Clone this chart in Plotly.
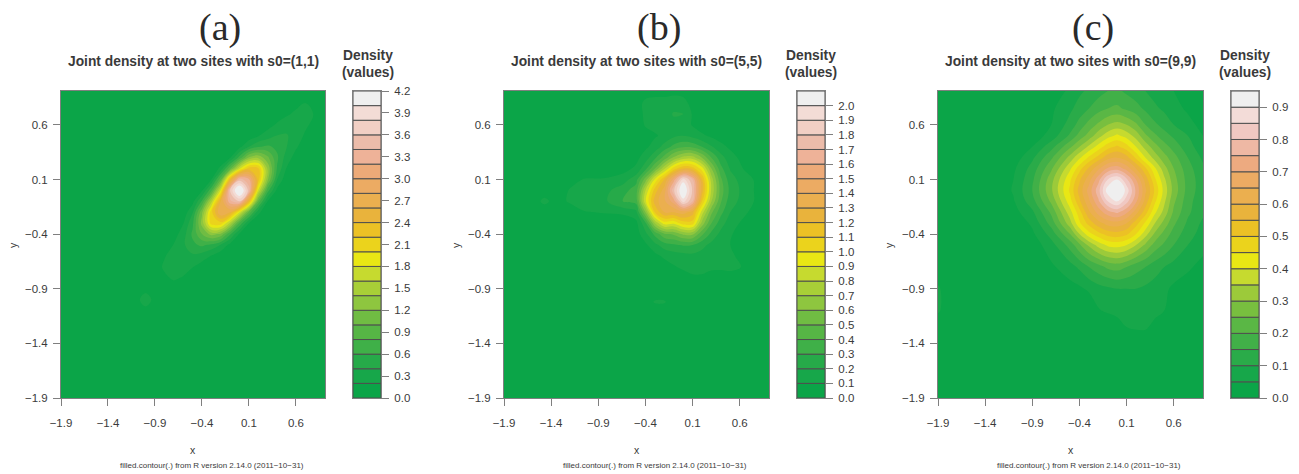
import plotly.graph_objects as go

W, H = 1299, 474

# Colour bands, low to high (21 for panels a and b, 19 for c)
colors_21 = ["#0ba548", "#17a74a", "#26aa49", "#3fb048", "#56b545", "#70bc43", "#8ec63f",
             "#a8cf37", "#c6da2f", "#e9e714", "#ebd31c", "#ecc125", "#e9b33c", "#ebaf4f",
             "#ecab63", "#edaa78", "#eeb298", "#ecbcaa", "#f1cfc4", "#f3dcd6", "#efefef"]
colors_19 = ["#0ba548", "#17a74a", "#2aab49", "#41b048", "#5ab745", "#78bf3f", "#9cca3a",
             "#c6da2f", "#e9e714", "#ebd31c", "#ecc125", "#e9b33c", "#ebaf4f", "#ecab63",
             "#edaa80", "#eeb8a4", "#f0c8c2", "#f3dcd8", "#efefef"]

axis_ticks = [-1.9, -1.4, -0.9, -0.4, 0.1, 0.6]
axis_labels = ["\u22121.9", "\u22121.4", "\u22120.9", "\u22120.4", "0.1", "0.6"]

# Panel (a) density
x_a = [-1.9, -1.3, -1.1, -1.0, -0.9, -0.8, -0.7, -0.6, -0.5, -0.4, -0.3, -0.2, -0.1, 0.0,
       0.1, 0.2, 0.3, 0.4, 0.5, 0.6, 0.7, 0.8, 0.91]
y_a = list(x_a)
z_a = [
    [0]*23,
    [0]*23,
    [0, 0, 0, .10, 0, 0, 0, 0, 0, 0, 0, 0, 0, 0, 0, 0, 0, 0, 0, 0, 0, 0, 0],
    [0, 0, .10, .36, .10, 0, 0, 0, 0, 0, 0, 0, 0, 0, 0, 0, 0, 0, 0, 0, 0, 0, 0],
    [0, 0, 0, .10, .08, .09, .07, .03, 0, 0, 0, 0, 0, 0, 0, 0, 0, 0, 0, 0, 0, 0, 0],
    [0, 0, 0, .05, .09, .15, .24, .18, .09, .02, 0, 0, 0, 0, 0, 0, 0, 0, 0, 0, 0, 0, 0],
    [0, 0, .01, .03, .08, .24, .32, .31, .21, .11, .03, 0, 0, 0, 0, 0, 0, 0, 0, 0, 0, 0, 0],
    [0, 0, 0, .01, .07, .18, .31, .38, .36, .30, .19, .06, 0, 0, 0, 0, 0, 0, 0, 0, 0, 0, 0],
    [0, 0, 0, 0, .02, .09, .21, .36, .55, .64, .55, .38, .13, 0, 0, 0, 0, 0, 0, 0, 0, 0, 0],
    [0, 0, 0, 0, 0, .02, .11, .30, .64, 1.0, 1.28, 1.16, .63, .17, 0, 0, 0, 0, 0, 0, 0, 0, 0],
    [0, 0, 0, 0, 0, 0, .03, .19, .55, 1.28, 2.1, 2.13, 1.54, .75, .20, 0, 0, 0, 0, 0, 0, 0, 0],
    [0, 0, 0, 0, 0, 0, 0, .06, .38, 1.16, 2.13, 2.8, 2.6, 1.82, .93, .26, 0, 0, 0, 0, 0, 0, 0],
    [0, 0, 0, 0, 0, 0, 0, 0, .13, .63, 1.54, 2.6, 3.35, 3.6, 2.4, .93, .19, 0, 0, 0, 0, 0, 0],
    [0, 0, 0, 0, 0, 0, 0, 0, 0, .17, .75, 1.82, 3.6, 4.4, 3.5, 1.76, .68, .14, 0, 0, 0, 0, 0],
    [0, 0, 0, 0, 0, 0, 0, 0, 0, 0, .20, .93, 2.4, 3.5, 3.25, 2.30, 1.24, .40, .06, 0, 0, 0, 0],
    [0, 0, 0, 0, 0, 0, 0, 0, 0, 0, 0, .26, .93, 1.76, 2.30, 2.25, 1.36, .58, .19, .03, 0, 0, 0],
    [0, 0, 0, 0, 0, 0, 0, 0, 0, 0, 0, 0, .19, .68, 1.24, 1.36, 1.05, .64, .30, .12, .03, 0, 0],
    [0, 0, 0, 0, 0, 0, 0, 0, 0, 0, 0, 0, 0, .14, .40, .58, .64, .55, .41, .23, .09, .02, 0],
    [0, 0, 0, 0, 0, 0, 0, 0, 0, 0, 0, 0, 0, 0, .06, .19, .30, .41, .42, .31, .17, .07, .01],
    [0, 0, 0, 0, 0, 0, 0, 0, 0, 0, 0, 0, 0, 0, 0, .03, .12, .23, .31, .30, .24, .14, .03],
    [0, 0, 0, 0, 0, 0, 0, 0, 0, 0, 0, 0, 0, 0, 0, 0, .03, .09, .17, .24, .26, .19, .06],
    [0, 0, 0, 0, 0, 0, 0, 0, 0, 0, 0, 0, 0, 0, 0, 0, 0, .02, .07, .14, .20, .17, .05],
    [0]*23,
]

# Panel (b)
x_b = [-1.9, -1.6, -1.47, -1.35, -1.2, -1.04, -0.85, -0.64, -0.5, -0.4, -0.3, -0.2, -0.1, 0.0,
       0.1, 0.2, 0.3, 0.4, 0.5, 0.65, 0.8, 0.91]
y_b = [-1.9, -1.1, -1.02, -0.94, -0.8, -0.7, -0.6, -0.5, -0.4, -0.3, -0.2, -0.1, 0.0, 0.1,
       0.2, 0.3, 0.4, 0.5, 0.6, 0.7, 0.8, 0.91]
z_b = [
    [0]*22,
    [0]*22,
    [0, 0, 0, 0, 0, 0, 0, 0, 0, 0, .12, .12, 0, 0, 0, 0, 0, 0, 0, 0, 0, 0],
    [0]*22,
    [0, 0, 0, 0, 0, 0, 0, 0, 0, 0, 0, 0, .02, .05, .08, .08, .06, .05, .05, .02, 0, 0],
    [0, 0, 0, 0, 0, 0, 0, 0, 0, 0, 0, .05, .09, .12, .14, .14, .12, .12, .13, .09, 0, 0],
    [0, 0, 0, 0, 0, 0, 0, 0, 0, 0, .07, .12, .15, .16, .17, .16, .13, .11, .11, .08, 0, 0],
    [0, 0, 0, 0, 0, 0, 0, 0, 0, .08, .17, .25, .28, .31, .30, .23, .17, .12, .10, .05, 0, 0],
    [0, 0, 0, 0, 0, 0, 0, 0, .05, .17, .33, .48, .52, .62, .62, .42, .27, .17, .11, .05, 0, 0],
    [0, 0, 0, 0, 0, 0, 0, 0, .07, .28, .70, .95, .92, 1.05, 1.05, .66, .40, .24, .15, .07, 0, 0],
    [0, 0, 0, 0, .02, .09, .11, .13, .17, .60, 1.10, 1.30, 1.30, 1.35, 1.25, .85, .52, .33, .20, .12, .04, 0],
    [0, .02, .14, .04, .12, .20, .17, .30, .34, .88, 1.25, 1.38, 1.55, 1.95, 1.70, 1.10, .70, .41, .24, .16, .07, 0],
    [0, 0, .02, .03, .11, .16, .16, .26, .35, .80, 1.15, 1.35, 1.78, 2.15, 1.78, 1.25, .78, .45, .27, .16, .07, 0],
    [0, 0, 0, 0, .06, .11, .11, .15, .26, .55, .92, 1.20, 1.55, 1.95, 1.70, 1.20, .75, .42, .24, .15, .07, 0],
    [0, 0, 0, 0, 0, 0, .03, .06, .12, .27, .50, .78, 1.05, 1.20, 1.15, .95, .60, .33, .19, .09, .02, 0],
    [0, 0, 0, 0, 0, 0, 0, .02, .07, .15, .28, .44, .62, .74, .75, .60, .40, .24, .14, .06, 0, 0],
    [0, 0, 0, 0, 0, 0, 0, 0, .03, .08, .14, .24, .33, .38, .37, .30, .21, .13, .08, .03, 0, 0],
    [0, 0, 0, 0, 0, 0, 0, 0, 0, .06, .09, .12, .18, .20, .17, .12, .08, .05, 0, 0, 0, 0],
    [0, 0, 0, 0, 0, 0, 0, 0, .04, .11, .13, .14, .17, .16, .09, .04, 0, 0, 0, 0, 0, 0],
    [0, 0, 0, 0, 0, 0, 0, 0, .05, .12, .14, .15, .21, .20, .09, .03, 0, 0, 0, 0, 0, 0],
    [0, 0, 0, 0, 0, 0, 0, 0, .06, .12, .13, .13, .15, .14, .06, 0, 0, 0, 0, 0, 0, 0],
    [0, 0, 0, 0, 0, 0, 0, 0, 0, .06, .07, .07, .07, .06, 0, 0, 0, 0, 0, 0, 0, 0],
]

# Panel (c)
x_c = [-1.9, -1.8, -1.3, -1.1, -0.9, -0.7, -0.5, -0.4, -0.3, -0.2, -0.1, 0.0, 0.1, 0.2, 0.3,
       0.4, 0.5, 0.6, 0.75, 0.91]
y_c = [-1.9, -1.4, -1.25, -1.1, -0.9, -0.7, -0.5, -0.4, -0.3, -0.2, -0.1, 0.0, 0.1, 0.2, 0.3,
       0.4, 0.5, 0.6, 0.75, 0.91]
z_c = [
    [0]*20,
    [0]*20,
    [0, 0, 0, 0, 0, 0, 0, 0, 0, 0, 0, .02, .05, .06, .06, .03, 0, 0, 0, 0],
    [.06, .02, 0, 0, 0, 0, 0, 0, 0, .045, .06, .07, .08, .08, .08, .07, .05, .02, 0, 0],
    [.06, .02, 0, 0, 0, 0, .03, .04, .06, .08, .09, .10, .10, .10, .09, .08, .06, .04, .02, .01],
    [0, 0, 0, 0, 0, .04, .08, .11, .15, .18, .21, .22, .20, .17, .15, .12, .10, .08, .06, .03],
    [0, 0, 0, 0, .02, .08, .17, .24, .31, .37, .41, .42, .40, .35, .29, .23, .19, .15, .10, .07],
    [0, 0, 0, 0, .04, .12, .25, .35, .43, .48, .52, .53, .51, .45, .37, .29, .23, .18, .12, .08],
    [0, 0, 0, .01, .06, .17, .33, .44, .52, .58, .62, .63, .60, .52, .44, .35, .28, .21, .14, .09],
    [0, 0, 0, .03, .09, .21, .38, .48, .59, .67, .73, .76, .71, .62, .52, .41, .33, .24, .16, .11],
    [0, 0, .01, .045, .13, .26, .43, .54, .64, .74, .85, .90, .82, .71, .58, .46, .36, .26, .17, .11],
    [0, 0, .01, .055, .15, .29, .46, .57, .67, .78, .93, .99, .88, .74, .61, .49, .38, .28, .18, .12],
    [0, 0, .01, .05, .14, .28, .44, .54, .63, .73, .85, .90, .81, .70, .58, .46, .36, .27, .18, .12],
    [0, 0, 0, .04, .12, .24, .39, .48, .56, .64, .71, .73, .68, .60, .51, .41, .32, .25, .17, .11],
    [0, 0, 0, .02, .09, .19, .32, .39, .46, .52, .58, .60, .57, .49, .40, .33, .27, .22, .15, .09],
    [0, 0, 0, .01, .05, .13, .24, .30, .36, .42, .48, .51, .47, .40, .33, .27, .22, .18, .12, .07],
    [0, 0, 0, 0, .02, .07, .16, .22, .27, .33, .38, .41, .38, .33, .26, .21, .17, .14, .10, .05],
    [0, 0, 0, 0, .01, .05, .12, .17, .22, .26, .30, .32, .30, .26, .20, .16, .13, .10, .07, .03],
    [0, 0, 0, 0, 0, .04, .09, .12, .15, .18, .20, .21, .19, .17, .14, .11, .09, .07, .04, .01],
    [0, 0, 0, 0, 0, .02, .06, .09, .11, .13, .15, .16, .14, .12, .10, .08, .06, .05, .02, 0],
]

panel_names = ["(a)", "(b)", "(c)"]
titles = ["Joint density at two sites with s0=(1,1)",
          "Joint density at two sites with s0=(5,5)",
          "Joint density at two sites with s0=(9,9)"]
footer = "filled.contour(.) from R version 2.14.0 (2011\u221210\u221231)"

edges_a = [round(0.2 * i, 2) for i in range(22)]
edges_b = [round(0.1 * i, 2) for i in range(22)]
edges_c = [round(0.05 * i, 2) for i in range(20)]
bar_ticks_a = [0.0, 0.3, 0.6, 0.9, 1.2, 1.5, 1.8, 2.1, 2.4, 2.7, 3.0, 3.3, 3.6, 3.9, 4.2]
bar_ticks_b = [0.0, 0.1, 0.2, 0.3, 0.4, 0.5, 0.6, 0.7, 0.8, 0.9, 1.0, 1.1, 1.2, 1.3, 1.4,
               1.5, 1.6, 1.7, 1.8, 1.9, 2.0]
bar_ticks_c = [0.0, 0.1, 0.2, 0.3, 0.4, 0.5, 0.6, 0.7, 0.8, 0.9]

panels = [
    dict(x=x_a, y=y_a, z=z_a, colors=colors_21, edges=edges_a, bticks=bar_ticks_a,
         px=(61, 325), bar=(353, 381), label_x=220, lab_x=13, foot_x=212, dens_x=368),
    dict(x=x_b, y=y_b, z=z_b, colors=colors_21, edges=edges_b, bticks=bar_ticks_b,
         px=(504, 769), bar=(797, 825), label_x=659, lab_x=456, foot_x=655, dens_x=811),
    dict(x=x_c, y=y_c, z=z_c, colors=colors_19, edges=edges_c, bticks=bar_ticks_c,
         px=(938, 1203), bar=(1231, 1259), label_x=1093, lab_x=889, foot_x=1089, dens_x=1245),
]

TOP, BOTTOM = 91, 398
FRAME = "#7f7f7f"
TXT = "#3a3a3a"
SANS = "Liberation Sans"

fig = go.Figure()
layout = dict(width=W, height=H, margin=dict(l=0, r=0, t=0, b=0, pad=0, autoexpand=False), autosize=False,
              paper_bgcolor="white", plot_bgcolor="#0ba548", showlegend=False,
              barmode="overlay", font=dict(family=SANS, color=TXT))
annotations = []


def note(x, y, text, size, bold=False, family=SANS, color=TXT, angle=0):
    annotations.append(dict(xref="paper", yref="paper", x=x / W, y=1 - y / H, text=f"<b>{text}</b>" if bold else text,
                            showarrow=False, xanchor="center", yanchor="middle", textangle=angle,
                            font=dict(size=size, family=family, color=color)))


yd = [1 - BOTTOM / H, 1 - TOP / H]
for i, p in enumerate(panels):
    n = len(p["colors"])
    step = p["edges"][1] - p["edges"][0]
    scale = []
    for k, c in enumerate(p["colors"]):
        scale += [[k / n, c], [(k + 1) / n, c]]
    main_x, main_y = 2 * i + 1, 2 * i + 1
    bar_x, bar_y = 2 * i + 2, 2 * i + 2
    fig.add_trace(go.Contour(
        x=p["x"], y=p["y"], z=p["z"], xaxis=f"x{main_x}", yaxis=f"y{main_y}",
        autocontour=False, zmin=p["edges"][0], zmax=p["edges"][-1],
        contours=dict(start=p["edges"][1], end=p["edges"][-2], size=step, coloring="fill", showlines=False),
        line=dict(width=0, smoothing=1.1), colorscale=scale, showscale=False, hoverinfo="skip"))
    fig.add_trace(go.Bar(
        x=[0] * n, y=[step] * n, base=p["edges"][:-1], width=1, xaxis=f"x{bar_x}", yaxis=f"y{bar_y}",
        marker=dict(color=p["colors"], line=dict(color="#4f4f4f", width=1)), hoverinfo="skip"))
    common = dict(showgrid=False, zeroline=False, showline=True, linecolor=FRAME, linewidth=1, mirror=True,
                  ticks="outside", ticklen=7, tickcolor=FRAME, tickwidth=1,
                  tickfont=dict(size=11.5, family=SANS, color=TXT))
    layout[f"xaxis{main_x}"] = dict(domain=[p["px"][0] / W, p["px"][1] / W], range=[-1.9, 0.91], anchor=f"y{main_y}",
                                    tickmode="array", tickvals=axis_ticks, ticktext=axis_labels,
                                    ticklabelstandoff=7, **common)
    layout[f"yaxis{main_y}"] = dict(domain=yd, range=[-1.9, 0.91], anchor=f"x{main_x}",
                                    tickmode="array", tickvals=axis_ticks, ticktext=axis_labels,
                                    ticklabelstandoff=3, **common)
    layout[f"xaxis{bar_x}"] = dict(domain=[p["bar"][0] / W, p["bar"][1] / W], range=[-0.5, 0.5], anchor=f"y{bar_y}",
                                   showticklabels=False, showgrid=False, zeroline=False, ticks="",
                                   showline=True, linecolor=FRAME, mirror=True)
    layout[f"yaxis{bar_y}"] = dict(domain=yd, range=[p["edges"][0], p["edges"][-1]], anchor=f"x{bar_x}", side="right",
                                   tickmode="array", tickvals=p["bticks"], ticktext=[f"{v:.1f}" for v in p["bticks"]],
                                   ticklabelstandoff=3, **common)
    centre = (p["px"][0] + p["px"][1]) / 2
    note(p["label_x"], 28, panel_names[i], 38, family="Liberation Serif", color="#2a2a2a")
    note(centre, 62, titles[i], 13.8, bold=True)
    note(p["dens_x"], 55, "Density", 13.8, bold=True)
    note(p["dens_x"], 72, "(values)", 13.8, bold=True)
    note(centre, 450, "x", 10.5)
    note(p["lab_x"], 245, "y", 10.5, angle=-90)
    note(p["foot_x"], 465, footer, 8)

layout["annotations"] = annotations
fig.update_layout(**layout)
fig.write_html("out.html", config=dict(displayModeBar=False),
               post_script="document.body.style.margin='0';")
